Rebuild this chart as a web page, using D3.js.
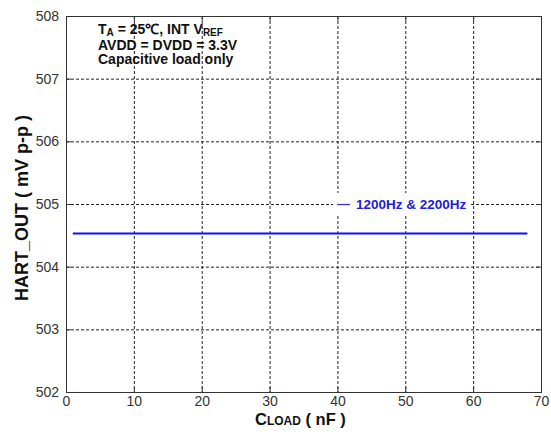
<!DOCTYPE html>
<html><head><meta charset="utf-8">
<script src="https://cdn.jsdelivr.net/npm/d3@7"></script>
<style>body{margin:0;background:#fff}svg{display:block}</style>
</head><body>
<svg id="c" width="551" height="437"></svg>
<script>
const xTicks = [0,10,20,30,40,50,60,70];
const yTicks = [502,503,504,505,506,507,508];
const loadNF = [1, 10, 20, 30, 40, 50, 60, 68];
const hartOut = [504.53, 504.53, 504.53, 504.53, 504.53, 504.53, 504.53, 504.53];
const seriesName = "1200Hz & 2200Hz";

const svg = d3.select("#c");
const L = 66, R = 541, T = 16, B = 392;
const x = d3.scaleLinear().domain([0,70]).range([L,R]);
const y = d3.scaleLinear().domain([502,508]).range([B,T]);
const tickFont = "'Liberation Sans Narrow','Arial Narrow','Liberation Sans',Arial,sans-serif";
const boldFont = "'Liberation Sans', Arial, sans-serif";

// grid
const g = svg.append("g").attr("stroke","#222").attr("stroke-width",1).attr("stroke-dasharray","3,2");
xTicks.slice(1,-1).forEach(t => g.append("line").attr("x1",x(t)+0.5).attr("x2",x(t)+0.5).attr("y1",T).attr("y2",B));
yTicks.slice(1,-1).forEach(t => g.append("line").attr("x1",L).attr("x2",R).attr("y1",y(t)+0.5).attr("y2",y(t)+0.5));

// legend background
svg.append("rect").attr("x",333).attr("y",193).attr("width",138).attr("height",21).attr("fill","#fff");

// axes
const axL = d3.axisLeft(y).tickValues(yTicks).tickSize(-5).tickPadding(7).tickFormat(d3.format("d"));
const axB = d3.axisBottom(x).tickValues(xTicks).tickSize(-5).tickPadding(4).tickFormat(d3.format("d"));
const axR = d3.axisRight(y).tickValues(yTicks).tickSize(-5).tickFormat("");
const axT = d3.axisTop(x).tickValues(xTicks).tickSize(-5).tickFormat("");
function style(sel){
  sel.select(".domain").attr("stroke","#333");
  sel.selectAll(".tick line").attr("stroke","#333");
  sel.selectAll("text").attr("font-family",tickFont).attr("font-size",14).attr("fill","#333");
}
svg.append("g").attr("transform",`translate(${L},0)`).call(axL).call(style);
svg.append("g").attr("transform",`translate(0,${B})`).call(axB).call(style);
svg.append("g").attr("transform",`translate(${R},0)`).call(axR).call(style);
svg.append("g").attr("transform",`translate(0,${T})`).call(axT).call(style);

// series line
svg.append("path").datum(loadNF.map((d,i)=>[d,hartOut[i]]))
  .attr("fill","none").attr("stroke","#1010f0").attr("stroke-width",2)
  .attr("d", d3.line().x(d=>x(d[0])).y(d=>y(d[1])));

// legend
svg.append("line").attr("x1",337).attr("x2",350).attr("y1",204.5).attr("y2",204.5).attr("stroke","#3030f0").attr("stroke-width",1.2);
svg.append("text").attr("x",356).attr("y",208.5).attr("font-family",boldFont)
  .attr("font-weight","bold").attr("font-size",13.5).attr("fill","#2020e0").text(seriesName);

// annotation
const ann = svg.append("g").attr("font-family",boldFont).attr("font-weight","bold").attr("font-size",14).attr("fill","#111");
const t1 = ann.append("text").attr("x",98).attr("y",34);
t1.append("tspan").text("T");
t1.append("tspan").attr("font-size",10).attr("dy",2).text("A");
t1.append("tspan").attr("dy",-2).text(" = 25\u2103, INT  V");
t1.append("tspan").attr("font-size",10).attr("dy",2).text("REF");
ann.append("text").attr("x",98).attr("y",49.5).text("AVDD = DVDD = 3.3V");
ann.append("text").attr("x",98).attr("y",64).text("Capacitive load only");

// axis titles
const xl = svg.append("text").attr("x",255).attr("y",425).attr("font-family",boldFont)
  .attr("font-weight","bold").attr("font-size",16.5).attr("fill","#111");
xl.append("tspan").text("C");
xl.append("tspan").attr("font-size",12).text("LOAD");
xl.append("tspan").text(" ( nF )");

svg.append("text").attr("transform","translate(28,208) rotate(-90)").attr("text-anchor","middle")
  .attr("font-family",boldFont).attr("font-weight","bold").attr("font-size",18).attr("fill","#111")
  .text("HART_OUT ( mV p-p )");
</script>
</body></html>
